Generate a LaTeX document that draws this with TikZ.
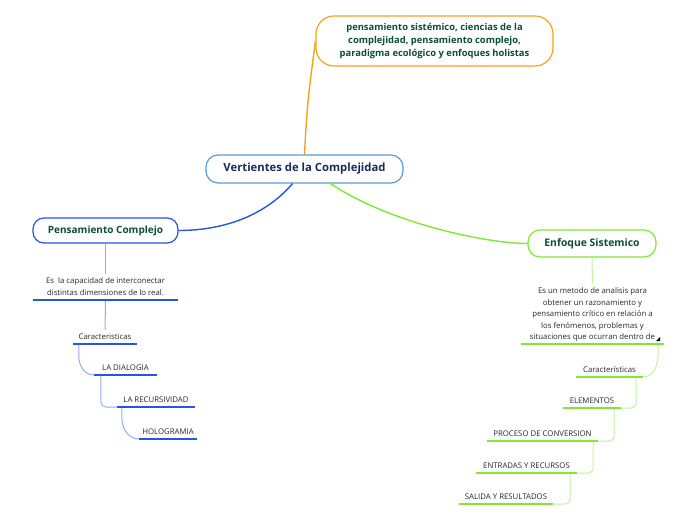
\documentclass[tikz,border=0pt]{standalone}
\usepackage{fontspec}
\setmainfont{Open Sans}
\definecolor{vcorange}{RGB}{247,162,27}
\definecolor{vcdarkgreen}{RGB}{11,78,58}
\definecolor{vcnavy}{RGB}{27,42,92}
\definecolor{vcskyblue}{RGB}{91,155,213}
\definecolor{vcblue}{RGB}{35,85,230}
\definecolor{vclightblue}{RGB}{140,175,240}
\definecolor{vcgreen}{RGB}{128,232,48}
\definecolor{vclightgreen}{RGB}{195,242,155}
\definecolor{vctext}{RGB}{40,40,40}
\usepackage{tikz}
\usetikzlibrary{positioning}
\tikzset{
  topic/.style={rectangle, draw=#1, line width=1.2pt, fill=white,
                align=center, inner sep=0pt, text=vcdarkgreen},
  leaf/.style={anchor=south, inner xsep=0pt, inner ysep=4pt, text depth=0pt,
               font=\fontsize{7.8}{9}\selectfont, text=vctext},
  bluelink/.style={draw=vclightblue, line width=1pt},
  blueline/.style={draw=vcblue, line width=1.8pt},
  greenlink/.style={draw=vclightgreen, line width=1pt},
  greenline/.style={draw=vcgreen, line width=1.8pt},
}

\begin{document}
\begin{tikzpicture}[x=1pt,y=1pt]
  \useasboundingbox (0,0) rectangle (696,520);
  \node[topic=vcorange, rounded corners=18pt, minimum width=237pt,
        minimum height=50pt, font=\fontsize{9.4}{13}\selectfont\bfseries]
        (tp) at (434.5,479) {pensamiento sistémico, ciencias de la\\complejidad, pensamiento complejo,\\paradigma ecológico y enfoques holistas};
  \node[topic=vcskyblue, rounded corners=12pt, minimum width=197pt,
        minimum height=28pt, text=vcnavy, font=\fontsize{11.3}{13}\selectfont\bfseries]
        (vc) at (304.5,351) {Vertientes de la Complejidad};
  \node[topic=vcblue, rounded corners=11pt, minimum width=145pt,
        minimum height=25pt, font=\fontsize{10}{12}\selectfont\bfseries]
        (pc) at (105.5,289.5) {Pensamiento Complejo};
  \node[topic=vcgreen, rounded corners=12pt, minimum width=128pt,
        minimum height=27pt, font=\fontsize{10.4}{12}\selectfont\bfseries]
        (es) at (592,276.5) {Enfoque Sistemico};

  \draw[vcorange, line width=1.4pt] (vc.north) .. controls +(3,60) and +(-5,-40) .. (tp.west);
  \draw[vcblue, line width=1.4pt] ([xshift=-12pt]vc.south) .. controls +(-30,-35) and +(40,0) .. (pc.east);
  \draw[vcgreen, line width=1.4pt] ([xshift=26pt]vc.south) .. controls +(60,-40) and +(-40,0) .. (es.west);

  \node[leaf, minimum width=145pt, align=center, font=\fontsize{7.8}{12}\selectfont]
        (ld) at (105.5,220) {Es\ \ la capacidad de interconectar\\distintas dimensiones de lo real.};
  \node[leaf, minimum width=64pt] (lcar) at (105,176) {Caracteristicas};
  \node[leaf, minimum width=63pt] (ldia) at (125.5,145) {LA DIALOGIA};
  \node[leaf, minimum width=78pt] (lrec) at (156,113) {LA RECURSIVIDAD};
  \node[leaf, minimum width=58pt] (lhol) at (168,81) {HOLOGRAMIA};

  \draw[bluelink] (pc.south) -- (ld.north);
  \draw[bluelink] (ld.south) -- (lcar.north);
  \draw[bluelink] ([xshift=6pt]lcar.south west) -- ++(0,-12) to[out=-90,in=180] (ldia.south west);
  \draw[bluelink, rounded corners=5pt] ([xshift=7pt]ldia.south west) |- (lrec.south west);
  \draw[bluelink] ([xshift=5pt]lrec.south west) -- ++(0,-10) to[out=-90,in=180] (lhol.south west);
  \draw[blueline] (ld.south west) -- (ld.south east);
  \draw[blueline] (lcar.south west) -- (lcar.south east);
  \draw[blueline] (ldia.south west) -- (ldia.south east);
  \draw[blueline] (lrec.south west) -- (lrec.south east);
  \draw[blueline] (lhol.south west) -- (lhol.south east);

  \node[leaf, minimum width=143pt, align=center, font=\fontsize{7.8}{11.5}\selectfont]
        (rd) at (592.5,176) {Es un metodo de analisis para\\obtener un razonamiento y\\pensamiento crítico en relación a\\los fenómenos, problemas y\\situaciones que ocurran dentro de};
  \node[leaf, minimum width=67pt] (rcar) at (609.5,143) {Características};
  \node[leaf, minimum width=58pt] (rele) at (592,112) {ELEMENTOS};
  \node[leaf, minimum width=111pt] (rpro) at (542.5,79) {PROCESO DE CONVERSION};
  \node[leaf, minimum width=101pt] (rent) at (526.5,47) {ENTRADAS Y RECURSOS};
  \node[leaf, minimum width=94pt] (rsal) at (506,16) {SALIDA Y RESULTADOS};

  \draw[greenlink] (es.south) -- (rd.north);
  \draw[greenlink] ([xshift=-6pt]rd.south east) -- ++(0,-9) to[out=-90,in=0] (rcar.south east);
  \draw[greenlink, rounded corners=5pt] ([xshift=-7pt]rcar.south east) |- (rele.south east);
  \draw[greenlink, rounded corners=5pt] ([xshift=-7pt]rele.south east) |- (rpro.south east);
  \draw[greenlink, rounded corners=5pt] ([xshift=-5pt]rpro.south east) |- (rent.south east);
  \draw[greenlink, rounded corners=5pt] ([xshift=-7pt]rent.south east) |- (rsal.south east);
  \draw[greenline] (rd.south west) -- (rd.south east);
  \draw[greenline] (rcar.south west) -- (rcar.south east);
  \draw[greenline] (rele.south west) -- (rele.south east);
  \draw[greenline] (rpro.south west) -- (rpro.south east);
  \draw[greenline] (rent.south west) -- (rent.south east);
  \draw[greenline] (rsal.south west) -- (rsal.south east);
  \fill ([shift={(-8pt,3pt)}]rd.south east) -- ++(4,0) -- ++(0,4) -- cycle;
\end{tikzpicture}
\end{document}
